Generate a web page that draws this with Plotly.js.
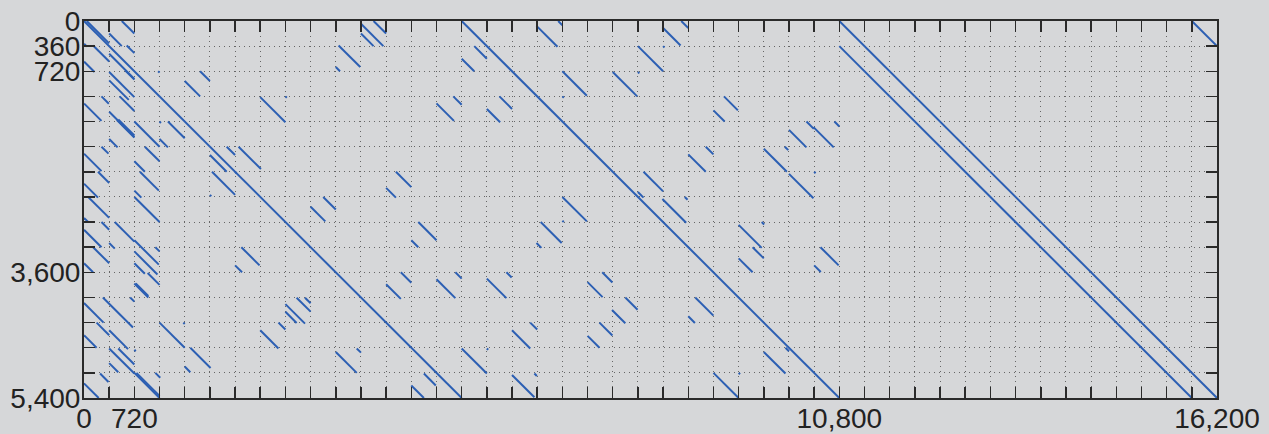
<!DOCTYPE html>
<html>
<head>
<meta charset="utf-8">
<script src="https://cdn.plot.ly/plotly-3.0.1.min.js"></script>
<style>
html,body{margin:0;padding:0;background:rgb(214,215,217);}
#chart{width:1269px;height:434px;}
</style>
</head>
<body>
<div id="chart"></div>
<script>
// Axis extents and tick labels
const xMax = 16200;
const yMax = 5400;
const gridStep = 360;
const xLabelVals = [0, 720, 10800, 16200];
const yLabelVals = [0, 360, 720, 3600, 5400];

// Diagonal match segments: start x, start y, length (slope +1)
const segX0 = [
  0, 5400, 10800, 10800, 15840,
  40, 540, 360, 3960, 3960, 4140, 3640, 3600, 130, 0, 360, 610, 0, 1440, 1660, 1060,
  360, 360, 590, 2520, 2880, 250, 0, 360, 510, 470, 490, 720, 1200, 1080, 360, 1080,
  250, 870, 1800, 2040, 2210, 0, 720, 1830, 2160, 200, 800, 0, 720, 1800, 3420, 3240,
  60, 720,
  0, 250, 440, 0, 360, 130, 0, 720, 720, 720, 910, 1020, 720, 740, 660, 270, 0, 180,
  360, 0, 360, 490, 720, 360, 230, 720, 750, 1020, 0, 1080, 1420, 1520, 1440, 2160,
  2250, 2880, 2880, 3040, 3160, 2520, 2780, 3600, 3900,
  5580, 5400, 6470, 6780, 6840, 6840, 7560, 7920, 8280, 7920, 8270, 8540, 5280, 5040,
  5940, 5760, 4460, 4320, 6840, 8000, 7920, 8270,
  4780, 4680, 6530, 6470, 6840, 4530, 4320, 5040, 5310, 5760, 6040, 7200, 7410, 7740,
  7550, 7370, 7200, 6120, 6380, 5400, 5760, 6120, 6440, 4860, 4680,
  9150, 9000, 10080, 10330, 10430, 10730, 8890, 8640, 9720, 10020, 10080, 10440, 8590,
  9360, 9690, 9560, 9360, 10530, 10440, 8740, 8640, 9720, 10030, 9000, 9360
];
const segY0 = [
  0, 0, 0, 360, 0,
  0, 0, 180, 40, 180, 0, 350, 660, 350, 325, 470, 350, 580, 860, 720, 720,
  730, 850, 710, 1090, 1080, 1080, 1180, 1300, 1080, 1420, 1410, 1440, 1440, 1440, 1690, 1690,
  1800, 1800, 1920, 1800, 1800, 1900, 2010, 2160, 2160, 2160, 2160, 2330, 2430, 2490, 2520, 2660,
  2520, 2520,
  2820, 2880, 2880, 2990, 3180, 3240, 3470, 3140, 3300, 3470, 3610, 3240, 3760, 3760, 3960, 3960, 4040, 4320,
  4430, 4500, 4690, 4690, 4710, 4900, 5050, 5040, 5040, 5040, 5190, 4320, 4320, 4680, 4950, 3500,
  3240, 4055, 4165, 3963, 3963, 4430, 4320, 4740, 4690,
  360, 540, 70, 0, 720, 1080, 730, 360, 360, 730, 90, 0, 1080, 1180,
  1080, 1260, 2160, 2390, 2520, 2160, 2450, 2550,
  2880, 3140, 2880, 3180, 2860, 3600, 3770, 3700, 3600, 3690, 3600, 3740, 3600, 3960,
  4140, 4320, 4510, 4430, 4320, 4690, 4690, 5070, 5050, 5050, 5220,
  1080, 1280, 1560, 1440, 1520, 1440, 1800, 1910, 1830, 1800, 2190, 2160, 2520,
  2920, 2880, 3240, 3400, 3240, 3500, 3960, 4230, 4740, 4680, 5040, 5040
];
const segLen = [
  5400, 5400, 5400, 5040, 360,
  320, 180, 180, 320, 180, 180, 310, 60, 230, 40, 360, 110, 150, 220, 140, 20,
  360, 280, 130, 360, 20, 105, 250, 360, 210, 250, 230, 360, 240, 20, 120, 120,
  100, 210, 240, 120, 320, 250, 150, 330, 20, 160, 270, 200, 100, 20, 180, 210,
  300, 360,
  60, 110, 280, 250, 80, 230, 130, 350, 330, 150, 170, 60, 200, 180, 60, 430, 280, 180,
  270, 180, 360, 230, 20, 130, 120, 360, 330, 70, 210, 360, 20, 290, 80, 100,
  260, 280, 160, 200, 80, 260, 100, 300, 60,
  180, 180, 300, 60, 350, 20, 350, 360, 20, 20, 260, 100, 120, 250,
  180, 190, 220, 140, 350, 280, 80, 340,
  260, 100, 300, 70, 20, 150, 210, 270, 90, 280, 75, 215, 145, 175,
  190, 185, 170, 260, 100, 360, 20, 320, 35, 170, 180,
  200, 160, 250, 105, 290, 70, 110, 250, 330, 50, 350, 20, 40,
  330, 35, 160, 200, 260, 95, 260, 95, 310, 50, 360, 20
];

const xs = [], ys = [];
for (let i = 0; i < segX0.length; i++) {
  xs.push(segX0[i], segX0[i] + segLen[i], null);
  ys.push(segY0[i], segY0[i] + segLen[i], null);
}

function ticks(max, labels) {
  const vals = [], text = [];
  for (let v = 0; v <= max; v += gridStep) {
    vals.push(v);
    text.push(labels.includes(v) ? v.toLocaleString('en-US') : '');
  }
  return {vals, text};
}
const xt = ticks(xMax, xLabelVals);
const yt = ticks(yMax, yLabelVals);

const bg = 'rgb(214,215,217)';
const axisCommon = {
  showline: true, linecolor: '#2a2a2a', linewidth: 2, mirror: 'ticks',
  ticks: 'inside', ticklen: 11, tickwidth: 1.5, tickcolor: '#2a2a2a',
  showgrid: true, gridcolor: '#666666', gridwidth: 1, griddash: '1px,4px',
  zeroline: false, tickmode: 'array',
  tickfont: {family: '"Liberation Sans", Arial, sans-serif', size: 28, color: '#222'}
};

const trace = {
  type: 'scatter', mode: 'lines', x: xs, y: ys,
  line: {color: '#2c5fb3', width: 2}, connectgaps: false, hoverinfo: 'skip'
};

const layout = {
  width: 1269, height: 434,
  margin: {l: 84, r: 52, t: 21, b: 36, pad: 0},
  paper_bgcolor: bg, plot_bgcolor: bg,
  showlegend: false,
  separators: '.,',
  xaxis: Object.assign({}, axisCommon, {range: [0, xMax], tickvals: xt.vals, ticktext: xt.text, ticklabelstandoff: -6}),
  yaxis: Object.assign({}, axisCommon, {range: [yMax, 0], tickvals: yt.vals, ticktext: yt.text, ticklabelstandoff: -4})
};

Plotly.newPlot('chart', [trace], layout, {displayModeBar: false, staticPlot: true});
</script>
</body>
</html>
